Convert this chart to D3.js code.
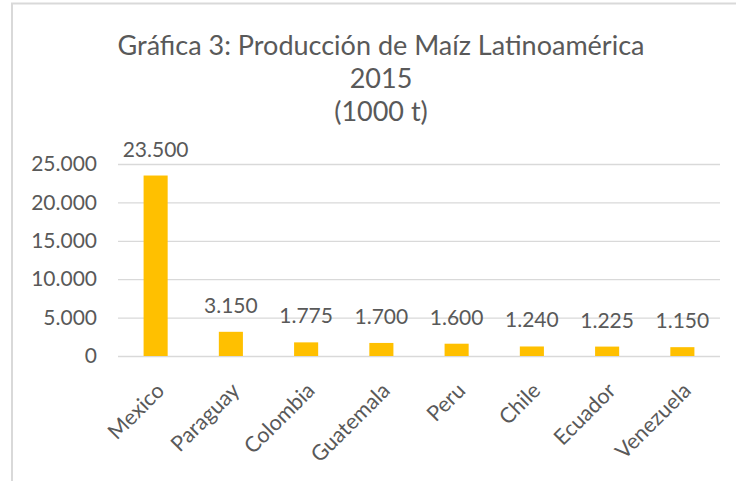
<!DOCTYPE html>
<html>
<head>
<meta charset="utf-8">
<script src="https://cdn.jsdelivr.net/npm/d3@7"></script>
<style>
  body { margin: 0; background: #fff; }
  text { font-family: Lato, "Open Sans", sans-serif; fill: #595959; }
</style>
</head>
<body>
<div class="canvas"></div>
<script>
// data
const countries = ['Mexico', 'Paraguay', 'Colombia', 'Guatemala', 'Peru', 'Chile', 'Ecuador', 'Venezuela'];
const production = [23500, 3150, 1775, 1700, 1600, 1240, 1225, 1150];
const yTicks = [0, 5000, 10000, 15000, 20000, 25000];
const titleLines = ['Gráfica 3: Producción de Maíz Latinoamérica', '2015', '(1000 t)'];

const width = 736, height = 481;
const fmt = d => d3.format(',')(d).replace(/,/g, '.');

const svg = d3.select('.canvas')
    .append('svg')
    .attr('width', width)
    .attr('height', height);

// chart frame (only top and left edges visible)
svg.append('line')
    .attr('x1', 11).attr('x2', width).attr('y1', 3.5).attr('y2', 3.5)
    .attr('stroke', '#d9d9d9').attr('stroke-width', 2);
svg.append('line')
    .attr('x1', 12).attr('x2', 12).attr('y1', 3).attr('y2', height)
    .attr('stroke', '#d9d9d9').attr('stroke-width', 2);

// title
svg.append('g').selectAll('text')
    .data(titleLines)
    .enter().append('text')
    .attr('x', 381)
    .attr('y', (d, i) => 55 + i * 33)
    .attr('text-anchor', 'middle')
    .style('font-size', '27px')
    .text(d => d);

const margin = { top: 164, left: 118, right: 16, bottom: 125 };
const graphWidth = width - margin.left - margin.right;
const graphHeight = 356 - margin.top;

const graph = svg.append('g')
    .attr('transform', `translate(${margin.left},${margin.top})`);

const y = d3.scaleLinear()
    .domain([0, 25000])
    .range([graphHeight, 0]);

const x = d3.scaleBand()
    .domain(countries)
    .range([0, graphWidth])
    .paddingInner(0.68)
    .paddingOuter(0.34);

// gridlines + y labels
const yAxis = d3.axisLeft(y)
    .tickValues(yTicks)
    .tickSize(-graphWidth)
    .tickPadding(21)
    .tickFormat(fmt);

const yAxisGroup = graph.append('g').call(yAxis);
yAxisGroup.select('.domain').remove();
yAxisGroup.selectAll('line').attr('stroke', '#d9d9d9').attr('stroke-width', 1.3);
yAxisGroup.selectAll('text')
    .style('font-size', '21px')
    .style('font-family', 'Lato, sans-serif')
    .attr('fill', '#595959');

// bars
graph.selectAll('rect')
    .data(production)
    .enter().append('rect')
    .attr('x', (d, i) => x(countries[i]))
    .attr('width', x.bandwidth())
    .attr('y', d => y(d))
    .attr('height', d => graphHeight - y(d))
    .attr('fill', '#ffc000');

// data labels
graph.selectAll('.label')
    .data(production)
    .enter().append('text')
    .attr('class', 'label')
    .attr('x', (d, i) => x(countries[i]) + x.bandwidth() / 2)
    .attr('y', d => y(d) - 19)
    .attr('text-anchor', 'middle')
    .style('font-size', '21px')
    .text(fmt);

// x axis labels
const xAxis = d3.axisBottom(x).tickSize(0);
const xAxisGroup = graph.append('g')
    .attr('transform', `translate(0,${graphHeight})`)
    .call(xAxis);
xAxisGroup.select('.domain').remove();
xAxisGroup.selectAll('text')
    .attr('y', 0)
    .attr('dy', 0)
    .attr('transform', 'translate(10,36) rotate(-45)')
    .attr('text-anchor', 'end')
    .style('font-size', '21.5px')
    .style('font-family', 'Lato, sans-serif')
    .attr('fill', '#595959');
</script>
</body>
</html>
